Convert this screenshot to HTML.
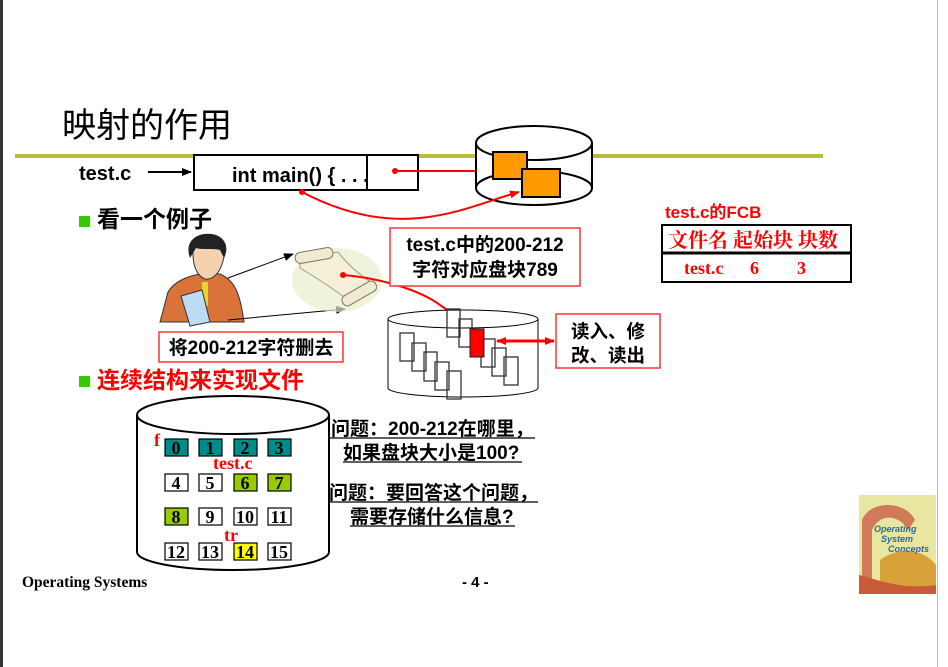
<!DOCTYPE html>
<html><head><meta charset="utf-8">
<style>
html,body{margin:0;padding:0;background:#fff;}
body{width:948px;height:667px;overflow:hidden;}
svg{display:block;}
.s{font-family:"Liberation Sans","Noto Sans CJK SC",sans-serif;font-weight:bold;}
.r{font-family:"Liberation Serif","Noto Serif CJK SC",serif;font-weight:bold;}
</style></head><body>
<svg width="948" height="667" viewBox="0 0 948 667" xmlns="http://www.w3.org/2000/svg">
<defs>
<marker id="ab" markerWidth="10" markerHeight="8" refX="9" refY="4" orient="auto" markerUnits="userSpaceOnUse"><path d="M0,0 L10,4 L0,8 Z" fill="#000"/></marker>
<marker id="ar" markerWidth="10" markerHeight="8" refX="9" refY="4" orient="auto" markerUnits="userSpaceOnUse"><path d="M0,0 L10,4 L0,8 Z" fill="#f00"/></marker>
<marker id="ars" markerWidth="10" markerHeight="8" refX="1" refY="4" orient="auto" markerUnits="userSpaceOnUse"><path d="M10,0 L0,4 L10,8 Z" fill="#f00"/></marker>
</defs>
<rect x="0" y="0" width="3" height="667" fill="#333"/>
<rect x="937" y="0" width="1" height="667" fill="#bbb"/>

<text x="62" y="137" font-family="'Noto Sans CJK SC',sans-serif" font-size="34" fill="#000">映射的作用</text>
<rect x="15" y="154" width="808" height="4" fill="#b8bb3c"/>

<text x="79" y="180" class="s" font-size="20">test.c</text>
<line x1="148" y1="172" x2="191" y2="172" stroke="#000" stroke-width="2" marker-end="url(#ab)"/>
<rect x="194" y="155" width="224" height="35" fill="#fff" stroke="#000" stroke-width="2"/>
<text x="232" y="182" class="s" font-size="20">int main() { . . .</text>
<line x1="367" y1="155" x2="367" y2="190" stroke="#000" stroke-width="2"/>
<circle cx="395" cy="171" r="3" fill="#f00"/>
<line x1="395" y1="171" x2="491" y2="171" stroke="#f00" stroke-width="2" marker-end="url(#ar)"/>

<path d="M476,143 L476,188 A58,17 0 0 0 592,188 L592,143" fill="#fff" stroke="#000" stroke-width="2"/>
<ellipse cx="534" cy="143" rx="58" ry="17" fill="#fff" stroke="#000" stroke-width="2"/>
<path d="M476,188 A58,17 0 0 1 592,188" fill="none" stroke="#000" stroke-width="2"/>
<rect x="493" y="152" width="34" height="27" fill="#f90" stroke="#000" stroke-width="2"/>
<rect x="522" y="169" width="38" height="28" fill="#f90" stroke="#000" stroke-width="2"/>
<circle cx="302" cy="192" r="3" fill="#f00"/>
<path d="M302,192 C340,212 380,222 420,218 C460,214 490,200 519,192" fill="none" stroke="#f00" stroke-width="2" marker-end="url(#ar)"/>

<text x="665" y="218" class="s" font-size="17" fill="#f00">test.c的FCB</text>
<rect x="662" y="225" width="189" height="57" fill="#fff" stroke="#000" stroke-width="2"/>
<line x1="662" y1="253" x2="851" y2="253" stroke="#000" stroke-width="3"/>
<text x="668" y="247" font-family="'Liberation Serif','Noto Serif CJK SC',serif" font-weight="bold" font-size="20" fill="#f00">文件名 起始块 块数</text>
<text x="684" y="274" class="r" font-size="18" fill="#f00">test.c</text>
<text x="750" y="274" class="r" font-size="18" fill="#f00">6</text>
<text x="797" y="274" class="r" font-size="18" fill="#f00">3</text>

<rect x="79" y="216" width="11" height="11" fill="#33cc00"/>
<text x="97" y="227" font-family="'Noto Sans CJK SC',sans-serif" font-weight="bold" font-size="23">看一个例子</text>

<path d="M160,322 L168,292 C175,280 190,276 200,274 L220,274 C234,280 240,292 244,322 Z" fill="#d9733a" stroke="#333" stroke-width="1"/>
<path d="M193,254 C192,242 205,234 217,239 C225,242 226,254 222,264 C219,274 212,280 205,279 C197,276 193,266 193,254 Z" fill="#f4d2b0" stroke="#333"/>
<path d="M190,258 C184,242 196,232 212,234 C224,236 230,246 224,258 L220,250 C212,248 202,250 196,248 Z" fill="#222"/>
<rect x="202" y="282" width="6" height="24" fill="#e5d42a"/>
<path d="M181,296 L202,290 L210,322 L190,326 Z" fill="#bcdcf5" stroke="#333"/>
<line x1="228" y1="278" x2="293" y2="254" stroke="#000" stroke-width="1" marker-end="url(#ab)"/>
<line x1="228" y1="320" x2="345" y2="309" stroke="#000" stroke-width="1" marker-end="url(#ab)"/>

<ellipse cx="337" cy="280" rx="45" ry="32" fill="#e8eecd" opacity="0.7"/>
<path d="M300,258 L338,252 C348,265 360,275 372,283 L348,300 C335,290 320,280 300,268 Z" fill="#f5efd8" stroke="#998" stroke-width="1"/>
<rect x="295" y="250" width="38" height="11" rx="5" fill="#f2ead0" stroke="#776" transform="rotate(-10 314 255)"/>
<rect x="340" y="288" width="38" height="11" rx="5" fill="#f2ead0" stroke="#776" transform="rotate(-30 359 293)"/>
<circle cx="343" cy="275" r="3" fill="#f00"/>
<path d="M343,275 C380,278 420,290 440,305 C455,315 465,325 474,333" fill="none" stroke="#f00" stroke-width="2"/>

<rect x="390" y="228" width="190" height="58" fill="#fff" stroke="#f33" stroke-width="1.5"/>
<text x="485" y="251" text-anchor="middle" class="s" font-size="19">test.c中的200-212</text>
<text x="485" y="276" text-anchor="middle" class="s" font-size="19">字符对应盘块789</text>

<rect x="159" y="332" width="184" height="30" fill="#fff" stroke="#f33" stroke-width="1.5"/>
<text x="251" y="354" text-anchor="middle" class="s" font-size="19">将200-212字符删去</text>

<path d="M388,319 L388,388 A75,9 0 0 0 538,388 L538,319" fill="#fff" stroke="#000" stroke-width="1"/>
<ellipse cx="463" cy="319" rx="75" ry="9" fill="#fff" stroke="#000" stroke-width="1"/>
<g fill="none" stroke="#333" stroke-width="1.3">
<rect x="400" y="333" width="14" height="28"/><rect x="412" y="343" width="14" height="28"/>
<rect x="424" y="352" width="13" height="29"/><rect x="435" y="362" width="14" height="28"/>
<rect x="447" y="371" width="14" height="28"/>
<rect x="447" y="309" width="13" height="28"/><rect x="459" y="319" width="13" height="28"/>
<rect x="481" y="339" width="14" height="28"/><rect x="492" y="348" width="14" height="28"/>
<rect x="504" y="357" width="14" height="28"/>
</g>
<rect x="470" y="329" width="14" height="28" fill="#f00" stroke="#222"/>
<line x1="497" y1="341" x2="554" y2="341" stroke="#f00" stroke-width="3" marker-start="url(#ars)" marker-end="url(#ar)"/>

<rect x="556" y="314" width="104" height="54" fill="#fff" stroke="#f33" stroke-width="1.5"/>
<text x="608" y="338" text-anchor="middle" class="s" font-size="18.5">读入、修</text>
<text x="608" y="362" text-anchor="middle" class="s" font-size="18.5">改、读出</text>

<rect x="79" y="376" width="11" height="11" fill="#33cc00"/>
<text x="97" y="388" font-family="'Noto Sans CJK SC',sans-serif" font-weight="bold" font-size="23" fill="#f00">连续结构来实现文件</text>

<path d="M137,415 L137,552 A96,18 0 0 0 329,552 L329,415" fill="#fff" stroke="#000" stroke-width="2"/>
<ellipse cx="233" cy="415" rx="96" ry="19" fill="#fff" stroke="#000" stroke-width="2"/>
<g class="r" font-size="18" text-anchor="middle">
<g stroke="#000" stroke-width="1.2">
<rect x="165" y="439" width="23" height="17" fill="#008b8b"/><rect x="199" y="439" width="23" height="17" fill="#008b8b"/>
<rect x="234" y="439" width="23" height="17" fill="#008b8b"/><rect x="268" y="439" width="23" height="17" fill="#008b8b"/>
<rect x="165" y="474" width="23" height="17" fill="#fff"/><rect x="199" y="474" width="23" height="17" fill="#fff"/>
<rect x="234" y="474" width="23" height="17" fill="#99cc00"/><rect x="268" y="474" width="23" height="17" fill="#99cc00"/>
<rect x="165" y="508" width="23" height="17" fill="#99cc00"/><rect x="199" y="508" width="23" height="17" fill="#fff"/>
<rect x="234" y="508" width="23" height="17" fill="#fff"/><rect x="268" y="508" width="23" height="17" fill="#fff"/>
<rect x="165" y="543" width="23" height="17" fill="#fff"/><rect x="199" y="543" width="23" height="17" fill="#fff"/>
<rect x="234" y="543" width="23" height="17" fill="#ffff00"/><rect x="268" y="543" width="23" height="17" fill="#fff"/>
</g>
<text x="176" y="454">0</text><text x="210" y="454">1</text><text x="245" y="454">2</text><text x="279" y="454">3</text>
<text x="176" y="489">4</text><text x="210" y="489">5</text><text x="245" y="489">6</text><text x="279" y="489">7</text>
<text x="176" y="523">8</text><text x="210" y="523">9</text><text x="245" y="523">10</text><text x="279" y="523">11</text>
<text x="176" y="558">12</text><text x="210" y="558">13</text><text x="245" y="558">14</text><text x="279" y="558">15</text>
</g>
<text x="154" y="446" class="r" font-size="18" fill="#f00">f</text>
<text x="213" y="469" class="r" font-size="18" fill="#f00">test.c</text>
<text x="224" y="541" class="r" font-size="18" fill="#f00">tr</text>

<g class="s" font-size="19">
<text x="331" y="435">问题：200-212在哪里，</text>
<line x1="330" y1="438" x2="535" y2="438" stroke="#000" stroke-width="1.2"/>
<text x="343" y="459">如果盘块大小是100?</text>
<line x1="343" y1="462" x2="522" y2="462" stroke="#000" stroke-width="1.2"/>
<text x="329" y="499">问题：要回答这个问题，</text>
<line x1="328" y1="502" x2="538" y2="502" stroke="#000" stroke-width="1.2"/>
<text x="350" y="523">需要存储什么信息?</text>
<line x1="350" y1="526" x2="515" y2="526" stroke="#000" stroke-width="1.2"/>
</g>

<text x="22" y="587" class="r" font-size="15.5">Operating Systems</text>
<text x="462" y="587" class="s" font-size="15">- 4 -</text>

<rect x="859" y="495" width="77" height="99" fill="#e8e6a0"/>
<path d="M862,520 C870,500 905,500 915,520 L908,530 C900,515 880,512 872,530 L872,590 L862,590 Z" fill="#d07a5a"/>
<path d="M880,560 C900,545 925,550 936,565 L936,594 L880,594 Z" fill="#d8a23a"/>
<path d="M859,575 C880,580 900,590 936,585 L936,594 L859,594 Z" fill="#c85a3a"/>
<text x="874" y="532" font-family="'Liberation Sans',sans-serif" font-style="italic" font-weight="bold" font-size="9" fill="#2a6aa0">Operating</text>
<text x="881" y="542" font-family="'Liberation Sans',sans-serif" font-style="italic" font-weight="bold" font-size="9" fill="#2a6aa0">System</text>
<text x="888" y="552" font-family="'Liberation Sans',sans-serif" font-style="italic" font-weight="bold" font-size="9" fill="#2a6aa0">Concepts</text>
</svg>
</body></html>
